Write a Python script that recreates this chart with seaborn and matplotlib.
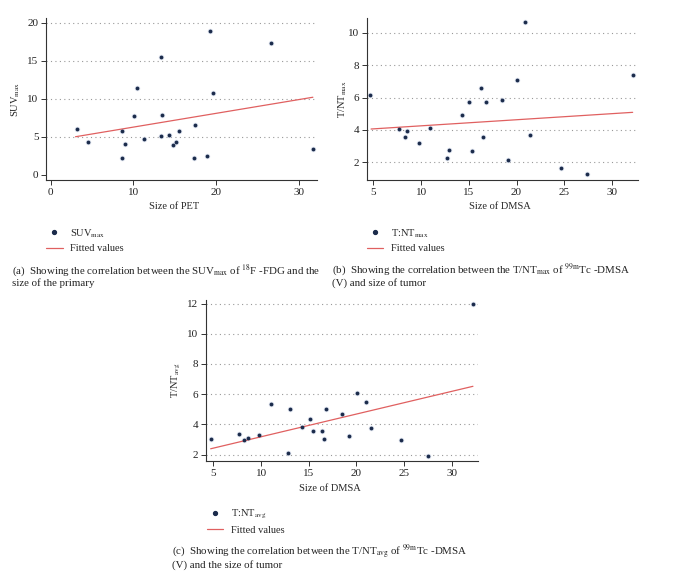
import matplotlib
matplotlib.use("Agg")
import matplotlib.pyplot as plt
import seaborn as sns
import pandas as pd
from matplotlib.lines import Line2D

# ---------------- data ----------------
size_pet = [3.19, 4.56, 8.56, 8.68, 9.0, 10.05, 10.38, 11.34, 13.28, 13.32, 13.48,
            14.29, 14.74, 15.18, 15.54, 17.36, 17.4, 18.93, 19.26, 19.66, 26.6, 31.7]
suv_max = [6.05, 4.25, 2.15, 5.7, 4.03, 7.76, 11.36, 4.65, 15.53, 5.13, 7.89,
           5.26, 3.95, 4.25, 5.75, 2.24, 6.54, 2.5, 18.9, 10.75, 17.3, 3.33]
fit_a_x = [3.0, 31.7]
fit_a_y = [5.0, 10.2]

size_dmsa_b = [4.69, 7.66, 8.29, 8.57, 9.76, 10.98, 12.76, 12.94, 14.27, 15.03, 15.35,
               16.29, 16.54, 16.75, 18.46, 19.13, 20.03, 20.91, 21.43, 24.62, 27.41, 32.24]
tnt_max = [6.14, 4.06, 3.59, 3.94, 3.18, 4.12, 2.29, 2.74, 4.93, 5.75, 2.68,
           6.62, 3.59, 5.71, 5.86, 2.12, 7.07, 10.66, 3.71, 1.63, 1.26, 7.42]
fit_b_x = [4.76, 32.17]
fit_b_y = [4.06, 5.09]

size_dmsa_c = [4.72, 7.73, 8.25, 8.64, 9.83, 11.01, 12.83, 13.0, 14.34, 15.1, 15.42,
               16.36, 16.57, 16.78, 18.5, 19.2, 20.03, 20.98, 21.5, 24.65, 27.45, 32.24]
tnt_avg = [3.04, 3.37, 2.98, 3.11, 3.29, 5.37, 2.13, 5.0, 3.8, 4.38, 3.55,
           3.58, 3.04, 5.0, 4.66, 3.2, 6.08, 5.46, 3.77, 2.93, 1.93, 12.0]
fit_c_x = [4.72, 32.2]
fit_c_y = [2.38, 6.52]

xticks_a = [0, 10, 20, 30]
yticks_a = [0, 5, 10, 15, 20]
xticks_bc = [5, 10, 15, 20, 25, 30]
yticks_b = [2, 4, 6, 8, 10]
yticks_c = [2, 4, 6, 8, 10, 12]

# ---------------- style ----------------
sns.set_theme(style="white")
plt.rcParams["font.family"] = ["Liberation Serif", "DejaVu Serif"]
plt.rcParams["mathtext.fontset"] = "stix"

W, H = 683, 578
fig = plt.figure(figsize=(W / 100, H / 100), dpi=100)

PT = "#1b2b4b"
RED = "#e06060"
TICK_FS = 8
LAB_FS = 7.5
LEG_FS = 7.5
CAP_FS = 7.8


def axes_px(l, t, r, b):
    return fig.add_axes([l / W, 1 - b / H, (r - l) / W, (b - t) / H])


def style_ax(ax, xlim, ylim, xt, yt, hide_first_grid=False):
    ax.set_xlim(*xlim)
    ax.set_ylim(*ylim)
    ax.set_xticks(xt)
    ax.set_yticks(yt)
    for s in ["top", "right"]:
        ax.spines[s].set_visible(False)
    for s in ["left", "bottom"]:
        ax.spines[s].set_color("#333333")
        ax.spines[s].set_linewidth(0.8)
    ax.tick_params(axis="both", direction="out", length=3.5, width=0.7,
                   color="#333333", labelsize=TICK_FS, pad=2, labelcolor="#222222")
    ax.tick_params(axis="both", which="both", bottom=True, left=True)
    ax.yaxis.grid(True, linestyle=(0, (1, 3)), color="#999999", linewidth=0.8)
    ax.xaxis.grid(False)
    if hide_first_grid:
        ax.get_ygridlines()[0].set_visible(False)


def panel(ax, x, y, fx, fy):
    sns.scatterplot(x=x, y=y, ax=ax, s=16, color="#c8d2e6", linewidth=0, alpha=0.55, zorder=2, legend=False)
    sns.scatterplot(x=x, y=y, ax=ax, s=7.5, color=PT, linewidth=0, zorder=3, legend=False)
    sns.lineplot(x=fx, y=fy, ax=ax, color=RED, linewidth=0.9, zorder=2, legend=False)


def add_legend(ax, label, left_px, top_px):
    handles = [Line2D([], [], linestyle="none", marker="o", markersize=2.8,
                      markerfacecolor=PT, markeredgecolor=PT),
               Line2D([], [], color=RED, linewidth=0.9)]
    ax.legend(handles, [label, "Fitted values"], loc="upper left",
              bbox_to_anchor=(left_px / W, 1 - top_px / H), bbox_transform=fig.transFigure,
              frameon=False, fontsize=LEG_FS, handlelength=1.6, handletextpad=0.75,
              labelspacing=0.45, borderpad=0, borderaxespad=0)


# ---------------- panel a ----------------
ax_a = axes_px(46, 18.3, 317, 180)
panel(ax_a, size_pet, suv_max, fit_a_x, fit_a_y)
style_ax(ax_a, (-0.57, 32.2), (-0.7, 20.6), xticks_a, yticks_a, hide_first_grid=True)
ax_a.set_xlabel("Size of PET", fontsize=LAB_FS)
ax_a.xaxis.label.set_va("center")
ax_a.xaxis.set_label_coords((174 - 46) / 271, (180 - 206.7) / 161.7)
ax_a.set_ylabel("SUV$_{\\mathrm{max}}$", fontsize=LAB_FS)
ax_a.yaxis.set_label_coords((22.5 - 46) / 271, 0.5)
add_legend(ax_a, "SUV$_{\\mathrm{max}}$", 46, 227)

# ---------------- panel b ----------------
ax_b = axes_px(366.7, 18.3, 637.7, 180)
panel(ax_b, size_dmsa_b, tnt_max, fit_b_x, fit_b_y)
style_ax(ax_b, (4.3, 32.7), (0.91, 10.9), xticks_bc, yticks_b)
ax_b.set_xlabel("Size of DMSA", fontsize=LAB_FS)
ax_b.xaxis.label.set_va("center")
ax_b.xaxis.set_label_coords((500 - 366.7) / 271, (180 - 206.3) / 161.7)
ax_b.set_ylabel("T/NT$_{\\mathrm{max}}$", fontsize=LAB_FS)
ax_b.yaxis.set_label_coords((349 - 366.7) / 271, 0.5)
add_legend(ax_b, "T:NT$_{\\mathrm{max}}$", 366.7, 227)

# ---------------- panel c ----------------
ax_c = axes_px(205.7, 300, 477.7, 461.3)
panel(ax_c, size_dmsa_c, tnt_avg, fit_c_x, fit_c_y)
style_ax(ax_c, (4.2, 32.7), (1.55, 12.24), xticks_bc, yticks_c)
ax_c.set_xlabel("Size of DMSA", fontsize=LAB_FS)
ax_c.xaxis.label.set_va("center")
ax_c.xaxis.set_label_coords((330 - 205.7) / 272, (461.3 - 488.3) / 161.3)
ax_c.set_ylabel("T/NT$_{\\mathrm{avg}}$", fontsize=LAB_FS)
ax_c.yaxis.set_label_coords((183 - 205.7) / 272, 0.5)
add_legend(ax_c, "T:NT$_{\\mathrm{avg}}$", 206.7, 508)

# ---------------- captions ----------------
def caption(x_px, y_px, s):
    fig.text(x_px / W, 1 - y_px / H, s, fontsize=CAP_FS, ha="left", va="center", color="#222222")

caption(11.7, 270, "(a)  Showing the correlation between the SUV$_{\\mathrm{max}}$ of $^{18}$F -FDG and the")
caption(11.7, 283.5, "size of the primary")
caption(331.7, 270, "(b)  Showing the correlation between the T/NT$_{\\mathrm{max}}$ of $^{\\mathrm{99m}}$Tc -DMSA")
caption(331.7, 283.5, "(V) and size of tumor")
caption(171.7, 552, "(c)  Showing the correlation between the T/NT$_{\\mathrm{avg}}$ of $^{\\mathrm{99m}}$Tc -DMSA")
caption(171.7, 565, "(V) and the size of tumor")

fig.savefig("out.png", dpi=100)
